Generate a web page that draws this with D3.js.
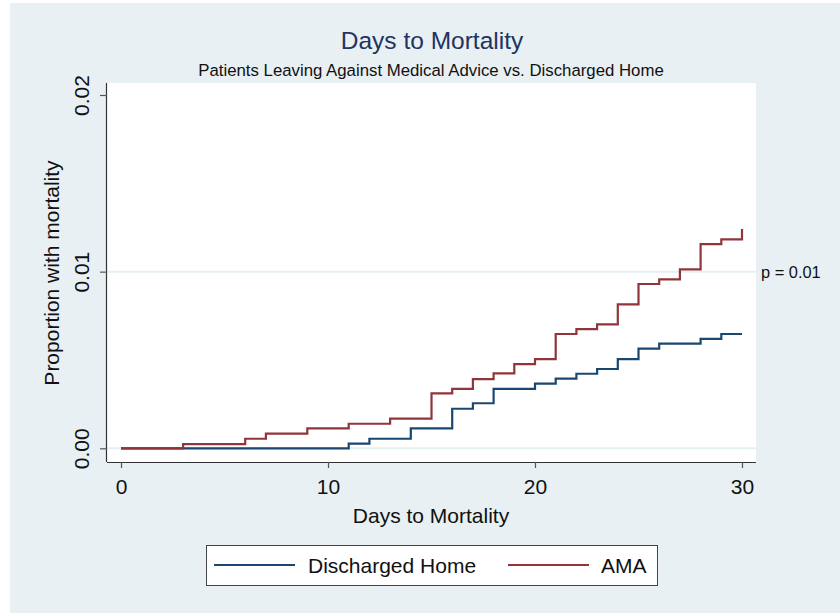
<!DOCTYPE html>
<html>
<head>
<meta charset="utf-8">
<script src="https://cdn.jsdelivr.net/npm/d3@7"></script>
<style>
  html, body { margin: 0; padding: 0; background: #ffffff; }
  svg { display: block; font-family: "Liberation Sans", Arial, Helvetica, sans-serif; }
</style>
</head>
<body>
<svg id="chart" width="840" height="613"></svg>
<script>
// ---- Data ----
const dischargedDays = [0, 11, 12, 14, 16, 17, 18, 20, 21, 22, 23, 24, 25, 26, 28, 29, 30];
const dischargedVals = [0, 0.00026, 0.00054, 0.00113, 0.00224, 0.00255, 0.00336, 0.00366, 0.00394, 0.00422, 0.00449, 0.00505, 0.00564, 0.00592, 0.00619, 0.00647, 0.00647];
const amaDays = [0, 3, 6, 7, 9, 11, 13, 15, 16, 17, 18, 19, 20, 21, 22, 23, 24, 25, 26, 27, 28, 29, 30];
const amaVals = [0, 0.00024, 0.00054, 0.00083, 0.00113, 0.00139, 0.00168, 0.00311, 0.00336, 0.00392, 0.00424, 0.00477, 0.00505, 0.00647, 0.00675, 0.00702, 0.00815, 0.0093, 0.00956, 0.01013, 0.01156, 0.01183, 0.01241];
const xTicks = [0, 10, 20, 30];
const yTicks = [0, 0.01, 0.02];
const yTickLabels = ["0.00", "0.01", "0.02"];
const gridValues = [0, 0.01];
const seriesNames = ["Discharged Home", "AMA"];
const seriesColors = ["#1a476f", "#90353b"];
const titleText = "Days to Mortality";
const subtitleText = "Patients Leaving Against Medical Advice vs. Discharged Home";
const xTitle = "Days to Mortality";
const yTitle = "Proportion with mortality";
const annotationText = "p = 0.01";
const annotationValue = 0.01;

// ---- Layout ----
const svg = d3.select("#chart");
const W = 840, H = 613;
const bg = "#e8f0f3";
const plot = { left: 107, right: 756, top: 83, bottom: 462 };
const axisFont = 21;

svg.append("rect").attr("x", 10).attr("y", 3).attr("width", W - 10).attr("height", H - 3).attr("fill", bg);
svg.append("rect").attr("x", plot.left).attr("y", plot.top)
  .attr("width", plot.right - plot.left).attr("height", plot.bottom - plot.top).attr("fill", "#ffffff");

const x = d3.scaleLinear().domain([0, 30]).range([121, 742]);
const y = d3.scaleLinear().domain([0, 0.02]).range([448.3, 95]);

// grid
svg.append("g").selectAll("line").data(gridValues).join("line")
  .attr("x1", plot.left).attr("x2", plot.right)
  .attr("y1", d => y(d)).attr("y2", d => y(d))
  .attr("stroke", "#e6eff2").attr("stroke-width", 2);

// series
const line = d3.line().x(d => x(d[0])).y(d => y(d[1])).curve(d3.curveStepAfter);
const series = [
  d3.zip(dischargedDays, dischargedVals),
  d3.zip(amaDays, amaVals)
];
svg.append("g").selectAll("path").data(series).join("path")
  .attr("d", d => line(d))
  .attr("fill", "none")
  .attr("stroke", (d, i) => seriesColors[i])
  .attr("stroke-width", 2.2)
  .attr("stroke-linejoin", "miter");

// axes
const xAxis = d3.axisBottom(x).tickValues(xTicks).tickSize(6).tickPadding(11).tickFormat(d3.format("d"));
const gx = svg.append("g").attr("transform", `translate(0,${plot.bottom})`).call(xAxis);
gx.select(".domain").attr("d", `M${plot.left},0.5H${plot.right}`).attr("stroke", "#333").attr("stroke-width", 1.2);
gx.selectAll(".tick line").attr("stroke", "#555").attr("stroke-width", 1.2);
gx.selectAll(".tick text").attr("font-size", axisFont).attr("fill", "#111").attr("font-family", "Liberation Sans, Arial, sans-serif");

const yAxis = d3.axisLeft(y).tickValues(yTicks).tickSize(7).tickPadding(0).tickFormat((d, i) => yTickLabels[i]);
const gy = svg.append("g").attr("transform", `translate(${plot.left},0)`).call(yAxis);
gy.select(".domain").attr("d", `M-0.5,${plot.top}V${plot.bottom}`).attr("stroke", "#333").attr("stroke-width", 1.2);
gy.selectAll(".tick line").attr("stroke", "#555").attr("stroke-width", 1.2);
gy.selectAll(".tick text")
  .attr("font-size", axisFont).attr("fill", "#111").attr("font-family", "Liberation Sans, Arial, sans-serif")
  .attr("x", null).attr("dy", null)
  .attr("text-anchor", "middle")
  .attr("transform", "translate(-25,0) rotate(-90)")
  .attr("y", 0).attr("dy", "0.35em");

// titles
svg.append("text").attr("x", 432).attr("y", 49).attr("text-anchor", "middle")
  .attr("font-size", 24.5).attr("fill", "#1e3461").text(titleText);
svg.append("text").attr("x", 431).attr("y", 76).attr("text-anchor", "middle")
  .attr("font-size", 16.8).attr("fill", "#111").text(subtitleText);
svg.append("text").attr("x", 431).attr("y", 523).attr("text-anchor", "middle")
  .attr("font-size", axisFont).attr("fill", "#111").text(xTitle);
svg.append("text").attr("transform", `translate(59,273) rotate(-90)`).attr("text-anchor", "middle")
  .attr("font-size", axisFont).attr("fill", "#111").text(yTitle);

// annotation
svg.append("text").attr("x", 761).attr("y", y(annotationValue) + 6)
  .attr("font-size", 16.4).attr("fill", "#111").text(annotationText);

// legend
const leg = svg.append("g");
leg.append("rect").attr("x", 206.5).attr("y", 545.5).attr("width", 451).attr("height", 40)
  .attr("fill", "#ffffff").attr("stroke", "#444").attr("stroke-width", 1);
const legItems = [
  { x1: 214, x2: 295, tx: 308 },
  { x1: 508, x2: 589, tx: 601 }
];
leg.selectAll("line").data(legItems).join("line")
  .attr("x1", d => d.x1).attr("x2", d => d.x2).attr("y1", 565).attr("y2", 565)
  .attr("stroke", (d, i) => seriesColors[i]).attr("stroke-width", 2);
leg.selectAll("text").data(legItems).join("text")
  .attr("x", d => d.tx).attr("y", 573)
  .attr("font-size", 21).attr("fill", "#111").text((d, i) => seriesNames[i]);
</script>
</body>
</html>
